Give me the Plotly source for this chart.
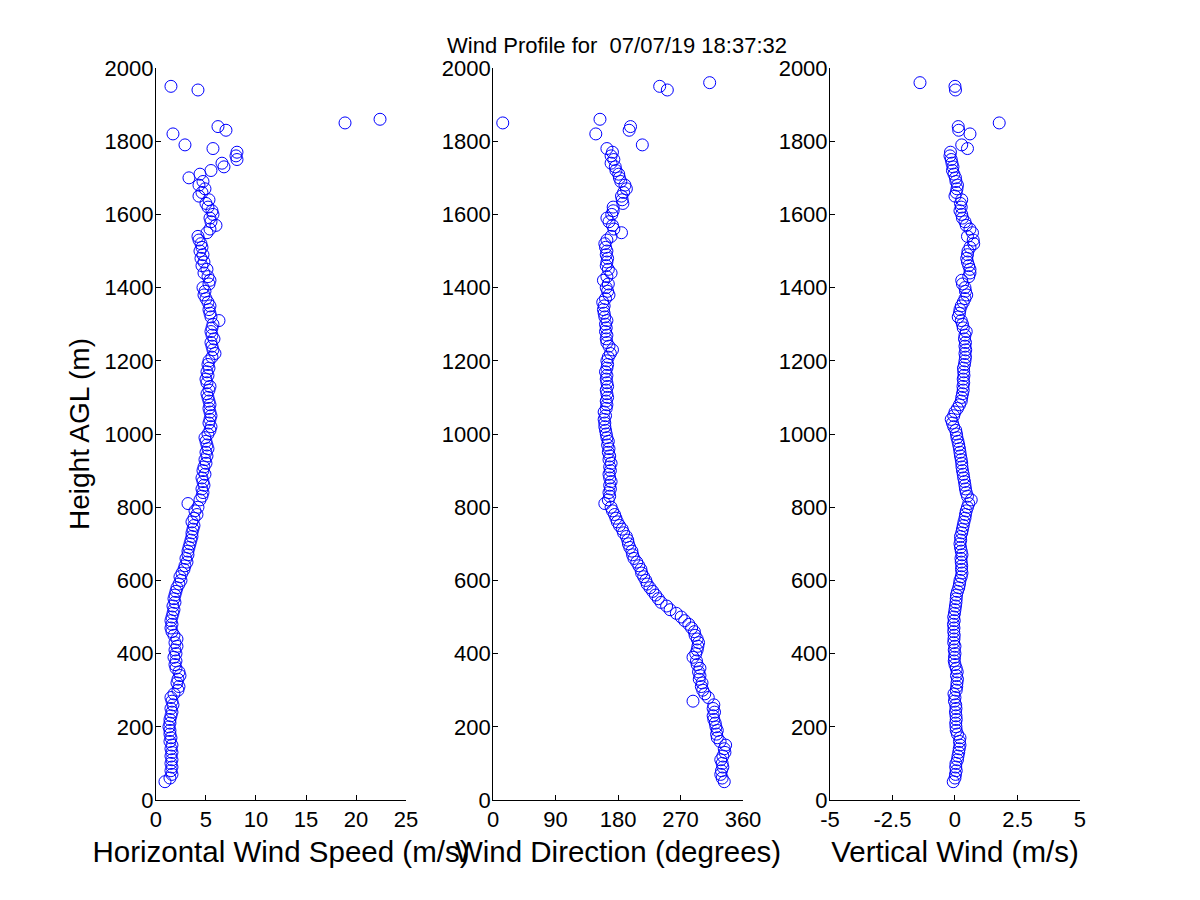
import plotly.graph_objects as go
from plotly.subplots import make_subplots

# range gate heights (m AGL)
heights = [
    50, 60, 70, 80, 90, 100, 110, 120, 130, 140,
    150, 160, 170, 180, 190, 200, 210, 220, 230, 240,
    250, 260, 270, 280, 290, 300, 310, 320, 330, 340,
    350, 360, 370, 380, 390, 400, 410, 420, 430, 440,
    450, 460, 470, 480, 490, 500, 510, 520, 530, 540,
    550, 560, 570, 580, 590, 600, 610, 620, 630, 640,
    650, 660, 670, 680, 690, 700, 710, 720, 730, 740,
    750, 760, 770, 780, 790, 800, 810, 820, 830, 840,
    850, 860, 870, 880, 890, 900, 910, 920, 930, 940,
    950, 960, 970, 980, 990, 1000, 1010, 1020, 1030, 1040,
    1050, 1060, 1070, 1080, 1090, 1100, 1110, 1120, 1130, 1140,
    1150, 1160, 1170, 1180, 1190, 1200, 1210, 1220, 1230, 1240,
    1250, 1260, 1270, 1280, 1290, 1300, 1310, 1320, 1330, 1340,
    1350, 1360, 1370, 1380, 1390, 1400, 1410, 1420, 1430, 1440,
    1450, 1460, 1470, 1480, 1490, 1500, 1510, 1520, 1530, 1540,
    1550, 1560, 1570, 1580, 1590, 1600, 1610, 1620, 1630, 1640,
    1650, 1660, 1670, 1680, 1690, 1700, 1710, 1720, 1730, 1740,
    1750, 1760, 1770, 1780, 1790,
    1820, 1830, 1840, 1850, 1860, 1940, 1950, 1960,
]

# horizontal wind speed (m/s)
speed = [
    0.9, 1.4, 1.6, 1.5, 1.6, 1.5, 1.6, 1.5, 1.6, 1.5,
    1.6, 1.4, 1.5, 1.4, 1.4, 1.3, 1.4, 1.4, 1.5, 1.6,
    1.5, 1.7, 1.6, 1.5, 1.8, 2.2, 2.3, 2.1, 2.2, 2.4,
    2.3, 2.0, 1.9, 2.0, 1.8, 2.0, 1.9, 2.1, 1.9, 2.1,
    1.8, 1.6, 1.5, 1.6, 1.5, 1.6, 1.7, 1.8, 1.7, 1.9,
    1.8, 1.9, 2.0, 2.1, 2.3, 2.5, 2.4, 2.6, 2.8, 2.9,
    3.1, 3.0, 3.2, 3.2, 3.3, 3.4, 3.5, 3.6, 3.6, 3.7,
    3.8, 3.6, 3.8, 4.1, 3.9, 4.2, 3.2, 4.4, 4.6, 4.7,
    4.6, 4.8, 4.7, 4.6, 4.9, 4.7, 4.8, 5.0, 4.9, 5.1,
    5.0, 5.2, 5.1, 5.0, 4.9, 5.2, 5.4, 5.5, 5.3, 5.4,
    5.5, 5.4, 5.3, 5.4, 5.3, 5.2, 5.1, 5.3, 5.4, 5.1,
    5.0, 5.2, 5.1, 5.3, 5.2, 5.3, 5.6, 5.9, 5.7, 5.6,
    5.5, 5.8, 5.6, 5.5, 5.6, 5.7, 6.3, 5.5, 5.4, 5.3,
    5.4, 5.2, 5.0, 4.8, 4.9, 4.7, 5.3, 5.4, 5.2, 4.8,
    5.1, 4.6, 4.8, 4.5, 4.7, 4.4, 4.6, 4.5, 4.3, 4.2,
    5.1, 5.4, 6.0, 5.5, 5.4, 5.7, 5.6, 5.2, 5.0, 5.3,
    4.3, 4.6, 4.9, 4.3, 4.7, 3.3, 4.4, 5.5, 6.8, 6.6,
    8.1, 8.0, 8.1, 5.7, 2.9,
    1.7, 7.0, 6.2, 18.9, 22.4, 4.2, 1.5, None,
]

# wind direction (degrees)
direction = [
    333, 330, 328, 329, 331, 330, 328, 331, 334, 333,
    335, 327, 323, 322, 323, 321, 320, 318, 317, 319,
    317, 318, 288, 310, 305, 302, 300, 301, 297, 298,
    296, 298, 294, 293, 288, 292, 294, 295, 296, 294,
    291, 290, 286, 282, 276, 271, 264, 255, 250, 242,
    238, 234, 230, 226, 222, 220, 217, 214, 213, 210,
    207, 203, 201, 200, 197, 195, 194, 192, 188, 186,
    182, 179, 177, 175, 172, 170, 161, 166, 168, 167,
    169, 168, 170, 168, 167, 169, 168, 170, 167, 168,
    166, 167, 165, 166, 164, 163, 162, 161, 161, 160,
    162, 160, 163, 164, 163, 165, 164, 163, 165, 164,
    163, 164, 162, 164, 165, 164, 166, 169, 172, 167,
    164, 163, 164, 162, 163, 162, 164, 161, 160, 159,
    160, 158, 162, 167, 165, 163, 166, 159, 164, 170,
    166, 163, 164, 165, 163, 164, 162, 161, 164, 170,
    185, 174, 172, 167, 164, 171, 173, 173, 187, 186,
    185, 188, 192, 190, 184, 182, 181, 177, 176, 170,
    174, 170, 172, 164, 215,
    148, 196, 198, 14, 154, 251, 240, 312,
]

# vertical wind (m/s)
vertical = [
    -0.07, 0.0, 0.02, 0.05, 0.03, 0.04, 0.1, 0.12, 0.15, 0.17,
    0.2, 0.18, 0.2, 0.1, 0.05, 0.04, 0.03, 0.05, 0.04, 0.02,
    0.04, 0.03, -0.02, 0.0, -0.04, 0.05, 0.07, 0.08, 0.1, 0.06,
    0.09, 0.05, 0.0, -0.03, -0.02, 0.0, -0.03, 0.0, -0.05, -0.04,
    -0.03, -0.05, -0.04, -0.06, -0.03, -0.05, -0.02, 0.0, 0.02, 0.04,
    0.05, 0.06, 0.1, 0.15, 0.18, 0.2, 0.25, 0.28, 0.26, 0.27,
    0.25, 0.24, 0.28, 0.25, 0.22, 0.2, 0.23, 0.22, 0.27, 0.3,
    0.33, 0.36, 0.4, 0.42, 0.45, 0.5, 0.55, 0.65, 0.5, 0.45,
    0.42, 0.4, 0.38, 0.35, 0.33, 0.3, 0.28, 0.27, 0.25, 0.22,
    0.2, 0.18, 0.15, 0.12, 0.08, 0.06, 0.03, -0.05, -0.1, -0.15,
    -0.05, 0.0, 0.1, 0.18, 0.25, 0.27, 0.3, 0.33, 0.32, 0.35,
    0.33, 0.36, 0.35, 0.34, 0.38, 0.4, 0.42, 0.4, 0.43, 0.4,
    0.42, 0.38, 0.4, 0.45, 0.33, 0.3, 0.25, 0.13, 0.18, 0.2,
    0.25, 0.33, 0.4, 0.47, 0.42, 0.4, 0.3, 0.27, 0.55, 0.6,
    0.6, 0.55, 0.5, 0.47, 0.5, 0.52, 0.6, 0.75, 0.73, 0.5,
    0.7, 0.6, 0.45, 0.4, 0.3, 0.27, 0.2, 0.25, 0.22, 0.27,
    0.0, 0.05, 0.08, 0.1, 0.04, 0.02, -0.04, -0.1, -0.08, -0.12,
    -0.15, -0.2, -0.18, 0.5, 0.27,
    0.6, 0.15, 0.13, 1.77, None, 0.02, 0.0, -1.4,
]

assert len(heights) == len(speed) == len(direction) == len(vertical)

FONT = "Arial, Liberation Sans, sans-serif"

fig = make_subplots(rows=1, cols=3)

for i, xs in enumerate([speed, direction, vertical]):
    fig.add_trace(go.Scatter(
        x=xs, y=heights, mode="markers",
        marker=dict(symbol="circle-open", size=12, color="#0000ff",
                    line=dict(width=1, color="#0000ff")),
        showlegend=False), row=1, col=i + 1)

axis_common = dict(showline=True, linecolor="black", linewidth=1,
                   ticks="inside", ticklen=5, tickcolor="black",
                   showgrid=False, zeroline=False, mirror=False,
                   automargin=False,
                   tickfont=dict(family=FONT, size=22, color="black"))

# the page body adds an 8px offset, so domains are shifted to compensate
doms = [(0.1233, 0.3317), (0.4042, 0.6125), (0.685, 0.8933)]
xt = [
    dict(range=[0, 25], tickvals=[0, 5, 10, 15, 20, 25],
         title="Horizontal Wind Speed (m/s)"),
    dict(range=[0, 360], tickvals=[0, 90, 180, 270, 360],
         title="Wind Direction (degrees)"),
    dict(range=[-5, 5], tickvals=[-5, -2.5, 0, 2.5, 5],
         ticktext=["-5", "-2.5", "0", "2.5", "5"],
         title="Vertical Wind (m/s)"),
]
for i in range(3):
    n = "" if i == 0 else str(i + 1)
    t = xt[i]
    fig.layout["xaxis" + n].update(
        domain=list(doms[i]), range=t["range"], tickvals=t["tickvals"],
        ticktext=t.get("ticktext"),
        title=dict(text=t["title"], standoff=9,
                   font=dict(family=FONT, size=29.5, color="black")),
        **axis_common)
    fig.layout["yaxis" + n].update(
        domain=[0.12, 0.9333], range=[0, 2000],
        tickvals=[0, 200, 400, 600, 800, 1000, 1200, 1400, 1600, 1800, 2000],
        ticklabelstandoff=-3,
        **axis_common)

fig.layout.yaxis.title = dict(text="Height AGL (m)", standoff=6,
                              font=dict(family=FONT, size=28, color="black"))

fig.update_layout(
    template="none",
    width=1200, height=900,
    margin=dict(l=0, r=0, t=0, b=0),
    paper_bgcolor="white", plot_bgcolor="white",
    title=dict(text="Wind Profile for\u00a0 07/07/19 18:37:32",
               x=0.5075, xanchor="center", y=0.9589, yanchor="middle",
               font=dict(family=FONT, size=22, color="black")),
)

fig.write_html("out.html")
